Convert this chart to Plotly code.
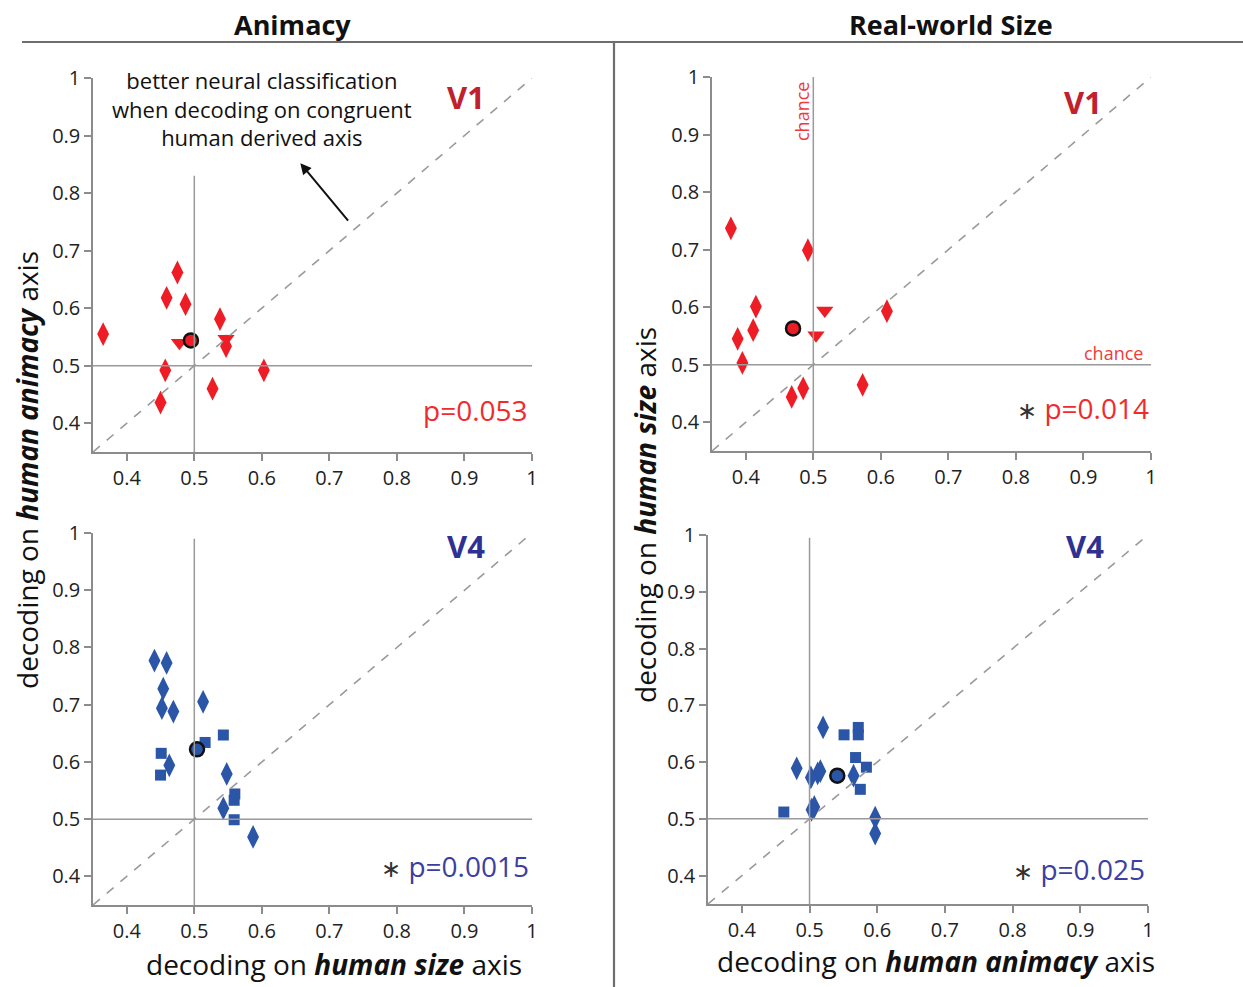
import plotly.graph_objects as go

W, H = 1243, 987

# ---------------- data ----------------
# Animacy / V1 (x: decoding on human size axis, y: decoding on human animacy axis)
tl_dia_x = [0.365, 0.475, 0.459, 0.487, 0.538, 0.547, 0.457, 0.603, 0.527, 0.450]
tl_dia_y = [0.555, 0.662, 0.618, 0.607, 0.581, 0.534, 0.492, 0.492, 0.460, 0.436]
tl_tri_x = [0.478, 0.547]
tl_tri_y = [0.540, 0.547]
tl_mean = [0.495, 0.544]

# Real-world size / V1 (x: human animacy axis, y: human size axis)
tr_dia_x = [0.378, 0.492, 0.415, 0.609, 0.411, 0.388, 0.395, 0.573, 0.485, 0.468]
tr_dia_y = [0.737, 0.699, 0.601, 0.593, 0.560, 0.545, 0.503, 0.465, 0.459, 0.444]
tr_tri_x = [0.517, 0.504]
tr_tri_y = [0.594, 0.551]
tr_mean = [0.470, 0.563]

# Animacy / V4
bl_dia_x = [0.441, 0.459, 0.454, 0.513, 0.452, 0.469, 0.463, 0.548, 0.543, 0.587]
bl_dia_y = [0.777, 0.773, 0.728, 0.705, 0.694, 0.688, 0.594, 0.579, 0.519, 0.469]
bl_sq_x = [0.543, 0.516, 0.451, 0.450, 0.560, 0.559, 0.559]
bl_sq_y = [0.647, 0.634, 0.615, 0.577, 0.544, 0.533, 0.499]
bl_mean = [0.504, 0.622]

# Real-world size / V4
br_dia_x = [0.520, 0.481, 0.516, 0.512, 0.502, 0.565, 0.507, 0.503, 0.597, 0.597]
br_dia_y = [0.661, 0.589, 0.584, 0.580, 0.573, 0.576, 0.521, 0.516, 0.502, 0.474]
br_sq_x = [0.572, 0.572, 0.551, 0.568, 0.584, 0.575, 0.462]
br_sq_y = [0.661, 0.648, 0.648, 0.608, 0.591, 0.552, 0.512]
br_mean = [0.541, 0.576]

tick_vals = [0.4, 0.5, 0.6, 0.7, 0.8, 0.9, 1.0]
tick_text = ["0.4", "0.5", "0.6", "0.7", "0.8", "0.9", "1"]
axis_range = [0.35, 1.0]
chance = 0.5

p_values = ["p=0.053", "p=0.014", "p=0.0015", "p=0.025"]
significant = [False, True, True, True]
area_names = ["V1", "V1", "V4", "V4"]
column_titles = ["Animacy", "Real-world Size"]

# ---------------- style ----------------
FONT = "Open Sans"
RED = "#ee1c24"
BLUE = "#2b55a6"
V1_COL = "#c1202d"
V4_COL = "#2e3192"
P_RED = "#ef2b2b"
P_BLUE = "#3b3fa2"
GREY = "#9a9a9a"
AXC = "#8c8c8c"

# panel pixel boxes: (x_left, x_right, y_top, y_bottom)
panels = {
    "1": (93, 532, 78, 452),
    "2": (712, 1151, 77, 451),
    "3": (93, 532, 533, 905),
    "4": (708, 1148, 535, 904),
}

def px(x):
    return x / W

def py(y):
    return 1 - y / H

fig = go.Figure()

def add_panel(k, dia_x, dia_y, other_x, other_y, other_sym, other_size, mean, col):
    xa = "x" if k == "1" else "x" + k
    ya = "y" if k == "1" else "y" + k
    fig.add_trace(go.Scatter(x=dia_x, y=dia_y, mode="markers", xaxis=xa, yaxis=ya,
                             marker=dict(symbol="diamond-tall", size=17, color=col,
                                         line=dict(width=0)), showlegend=False))
    fig.add_trace(go.Scatter(x=other_x, y=other_y, mode="markers", xaxis=xa, yaxis=ya,
                             marker=dict(symbol=other_sym, size=other_size, color=col,
                                         line=dict(width=0)), showlegend=False))
    fig.add_trace(go.Scatter(x=[mean[0]], y=[mean[1]], mode="markers", xaxis=xa, yaxis=ya,
                             marker=dict(symbol="circle", size=14, color=col,
                                         line=dict(width=2.5, color="#111111")),
                             showlegend=False))

add_panel("1", tl_dia_x, tl_dia_y, tl_tri_x, tl_tri_y, "triangle-down", 15, tl_mean, RED)
add_panel("2", tr_dia_x, tr_dia_y, tr_tri_x, tr_tri_y, "triangle-down", 15, tr_mean, RED)
add_panel("3", bl_dia_x, bl_dia_y, bl_sq_x, bl_sq_y, "square", 11, bl_mean, BLUE)
add_panel("4", br_dia_x, br_dia_y, br_sq_x, br_sq_y, "square", 11, br_mean, BLUE)

layout = dict(width=W, height=H, margin=dict(l=0, r=0, t=0, b=0, pad=0, autoexpand=False),
              paper_bgcolor="white", plot_bgcolor="white", showlegend=False,
              font=dict(family=FONT, color="#222222"))

for k, (x0, x1, y0, y1) in panels.items():
    xn = "xaxis" if k == "1" else "xaxis" + k
    yn = "yaxis" if k == "1" else "yaxis" + k
    xa = "x" if k == "1" else "x" + k
    ya = "y" if k == "1" else "y" + k
    common = dict(range=axis_range, tickvals=tick_vals, ticktext=tick_text,
                  showgrid=False, zeroline=False, showline=True, linecolor=AXC,
                  linewidth=1.5, ticks="outside", ticklen=7, tickcolor=AXC,
                  tickwidth=1.5, tickfont=dict(size=20, family=FONT, color="#222222"),
                  fixedrange=True, automargin=False)
    layout[xn] = dict(common, domain=[px(x0), px(x1)], anchor=ya)
    layout[yn] = dict(common, domain=[py(y1), py(y0)], anchor=xa)

fig.update_layout(**layout)

shapes = []
annotations = []

vert_top = {"1": 0.83, "2": 1.0, "3": 0.99, "4": 0.995}
for k in panels:
    xa = "x" if k == "1" else "x" + k
    ya = "y" if k == "1" else "y" + k
    # diagonal
    shapes.append(dict(type="line", xref=xa, yref=ya, x0=axis_range[0], y0=axis_range[0],
                       x1=axis_range[1], y1=axis_range[1],
                       line=dict(color=GREY, width=1.6, dash="dash")))
    # chance lines
    shapes.append(dict(type="line", xref=xa, yref=ya, x0=chance, y0=axis_range[0],
                       x1=chance, y1=vert_top[k], line=dict(color=GREY, width=1.5)))
    shapes.append(dict(type="line", xref=xa, yref=ya, x0=axis_range[0], y0=chance,
                       x1=axis_range[1], y1=chance, line=dict(color=GREY, width=1.5)))

# column header lines
shapes.append(dict(type="line", xref="paper", yref="paper", x0=px(22), x1=1, y0=py(42), y1=py(42),
                   line=dict(color="#6e6e6e", width=2.2)))
shapes.append(dict(type="line", xref="paper", yref="paper", x0=px(614), x1=px(614), y0=py(42), y1=0,
                   line=dict(color="#6e6e6e", width=2.2)))

def ann(x, y, text, size, color="#111111", xanchor="center", yanchor="middle", angle=0, **kw):
    annotations.append(dict(x=px(x), y=py(y), xref="paper", yref="paper", text=text,
                            showarrow=False, xanchor=xanchor, yanchor=yanchor, textangle=angle,
                            font=dict(size=size, color=color, family=FONT), **kw))

# column titles
ann(292, 24, "<b>" + column_titles[0] + "</b>", 27)
ann(951, 24, "<b>" + column_titles[1] + "</b>", 27)

# area labels
ann(466, 97, "<b>" + area_names[0] + "</b>", 31, V1_COL)
ann(1083, 102, "<b>" + area_names[1] + "</b>", 31, V1_COL)
ann(466, 546, "<b>" + area_names[2] + "</b>", 31, V4_COL)
ann(1085, 546, "<b>" + area_names[3] + "</b>", 31, V4_COL)

# p values
p_pos = [(530, 410, P_RED), (1151, 408, P_RED), (531, 866, P_BLUE), (1147, 869, P_BLUE)]
for (x, y, c), pv, sig in zip(p_pos, p_values, significant):
    t = pv
    if sig:
        t = '<span style="color:#333333;font-family:DejaVu Sans;font-size:24px">\u2217</span> ' + pv
    ann(x, y, t, 28, c, xanchor="right")

# text annotation with arrow
ann(262, 108, "better neural classification<br>when decoding on congruent<br>human derived axis", 22)
annotations.append(dict(x=0.657, y=0.852, xref="x", yref="y", ax=49, ay=59, axref="pixel",
                        ayref="pixel", text="", showarrow=True, arrowhead=2, arrowsize=1.1,
                        arrowwidth=2, arrowcolor="#111111"))

# chance labels
ann(802, 112, "chance", 18, "#ef3b3b", angle=-90)
ann(1145, 353, "chance", 18, "#ef3b3b", xanchor="right")

# axis titles
ann(27, 470, "decoding on <b><i>human animacy</i></b> axis", 28, angle=-90)
ann(645, 515, "decoding on <b><i>human size</i></b> axis", 28, angle=-90)
ann(334, 964, "decoding on <b><i>human size</i></b> axis", 28)
ann(936, 961, "decoding on <b><i>human animacy</i></b> axis", 28)

fig.update_layout(shapes=shapes, annotations=annotations)
fig.write_html("out.html")
